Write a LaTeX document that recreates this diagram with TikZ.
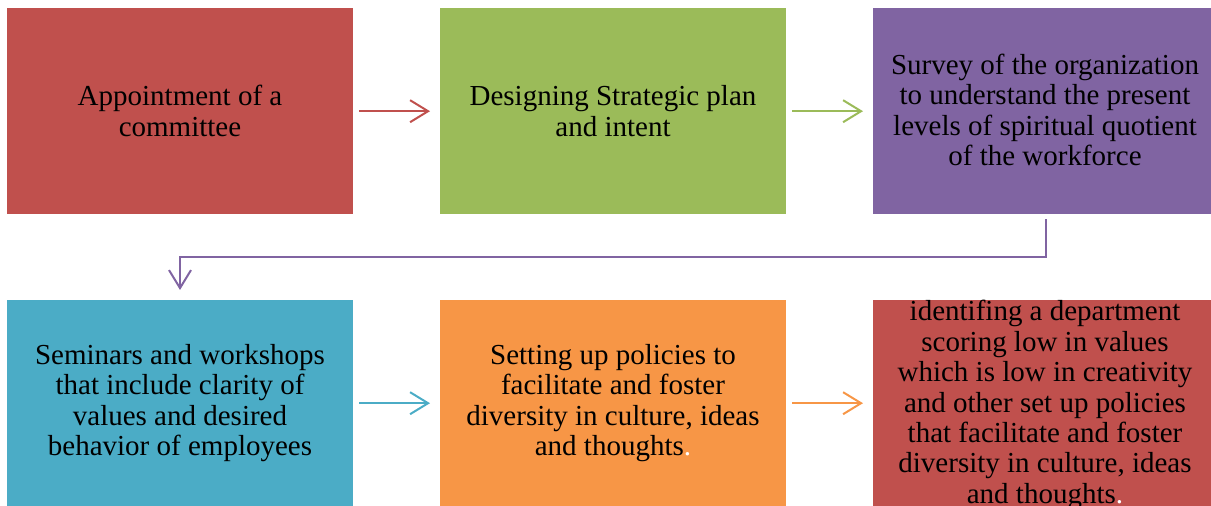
\documentclass[tikz,border=0pt]{standalone}
\usepackage{fontspec}
\setmainfont{Liberation Serif}
\usetikzlibrary{arrows.meta}
\definecolor{cred}{HTML}{C0504D}
\definecolor{cgreen}{HTML}{9BBB59}
\definecolor{cpurple}{HTML}{8064A2}
\definecolor{cblue}{HTML}{4BACC6}
\definecolor{corange}{HTML}{F79646}
\begin{document}
\begin{tikzpicture}[x=1bp,y=-1bp,
  box/.style={draw=none,inner sep=0pt,minimum width=346bp,minimum height=206bp,anchor=north west},
  label/.style={align=center,inner sep=0pt,text=black,
    font=\fontsize{29bp}{30.4bp}\selectfont},
  flow/.style={line width=2bp,-{Straight Barb[length=18bp,width=22bp,line width=2bp]}}]
\useasboundingbox (0,0) rectangle (1211,506);
% top row
\node[box,fill=cred]    (b1) at (7,8)   {};
\node[box,fill=cgreen]  (b2) at (440,8) {};
\node[box,fill=cpurple,minimum width=338bp] (b3) at (873,8) {};
% bottom row
\node[box,fill=cblue]   (b4) at (7,300)   {};
\node[box,fill=corange] (b5) at (440,300) {};
\node[box,fill=cred,minimum width=338bp] (b6) at (873,300) {};
% texts
\node[label] (t1) at (180,111) {Appointment of a\\committee};
\node[label] (t2) at (613,111) {Designing Strategic plan\\and intent};
\node[label] (t3) at (1045,110) {Survey of the organization\\to understand the present\\levels of spiritual quotient\\of the workforce};
\node[label] (t4) at (180,403) {Seminars and workshops\\that include clarity of\\values and desired\\behavior of employees};
\node[label] (t5) at (613,403) {Setting up policies to\\facilitate and foster\\diversity in culture, ideas\\and thoughts\textcolor{white}{.}};
\node[label] (t6) at (1045,405) {identifing a department\\scoring low in values\\which is low in creativity\\and other set up policies\\that facilitate and foster\\diversity in culture, ideas\\and thoughts\textcolor{white}{.}};
% connectors
\draw[flow,cred]    ([xshift=6bp]b1.east) -- ([xshift=-10bp]b2.west);
\draw[flow,cgreen]  ([xshift=6bp]b2.east) -- ([xshift=-10bp]b3.west);
\draw[flow,cblue]   ([xshift=6bp]b4.east) -- ([xshift=-10bp]b5.west);
\draw[flow,corange] ([xshift=6bp]b5.east) -- ([xshift=-10bp]b6.west);
\coordinate (c1) at ([shift={(4bp,-5bp)}]b3.south);
\draw[flow,cpurple] (c1) -- (c1 |- 0,257) -- (180,257) -- ([yshift=10bp]b4.north -| 180,0);
\end{tikzpicture}
\end{document}
